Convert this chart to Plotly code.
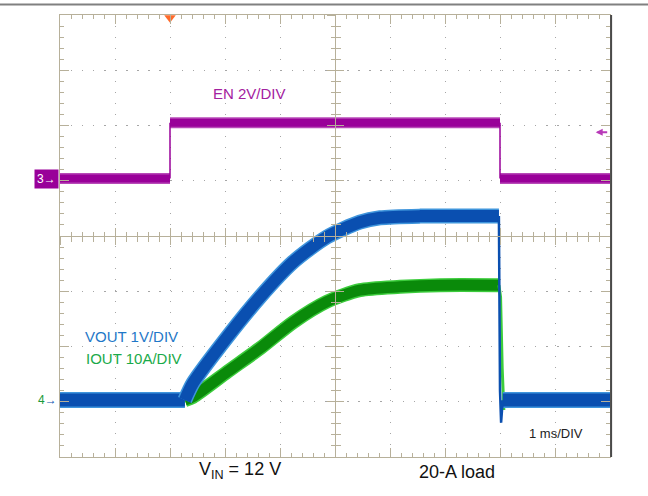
import plotly.graph_objects as go

# Oscilloscope capture: EN / VOUT / IOUT, 1 ms/div, 10 x 8 divisions
# time in divisions (1 div = 1 ms), amplitude in divisions from bottom

T_TRIG = 2.0

EN_T = [0.0, 2.0, 2.0, 8.0, 8.0, 10.0]
EN_V = [5.04, 5.04, 6.05, 6.05, 5.04, 5.04]

VOUT_BASE_T = [0.0, 2.27]
VOUT_BASE_V = [1.03, 1.03]
VOUT_T = [2.27, 2.42, 3.04, 3.64, 4.24, 4.85, 5.45, 5.82, 6.55, 7.98]
VOUT_V = [1.03, 1.34, 2.17, 2.90, 3.53, 3.98, 4.25, 4.33, 4.36, 4.36]
VOUT_FALL_T = [7.98, 8.0, 8.02, 8.05]
VOUT_FALL_V = [4.36, 1.2, 0.62, 1.03]
VOUT_TAIL_T = [8.05, 10.0]
VOUT_TAIL_V = [1.03, 1.03]

IOUT_BASE_T = [0.0, 2.27]
IOUT_BASE_V = [1.03, 1.03]
IOUT_T = [2.27, 2.42, 3.04, 3.64, 4.24, 4.85, 5.45, 6.18, 6.91, 7.98]
IOUT_V = [1.03, 1.09, 1.54, 1.97, 2.44, 2.81, 3.02, 3.08, 3.11, 3.11]
IOUT_FALL_T = [7.98, 8.01, 8.04, 8.07]
IOUT_FALL_V = [3.11, 2.9, 1.6, 0.85]
IOUT_TAIL_T = [8.07, 10.0]
IOUT_TAIL_V = [1.03, 1.03]

MAGENTA = "#990099"
MAGENTA_LT = "#b84ab8"
BLUE = "#0a4fb0"
BLUE_LT = "#3f95dc"
GREEN = "#0a8a0a"
GREEN_LT = "#3ccc3c"
TAN = "#b7b09a"
DOT = "#a6a6a6"
FONT = "Liberation Sans, Arial, sans-serif"


def segments(t, v, pairs):
    xs, ys = [], []
    for a, b in pairs:
        xs += [t[a], t[b], None]
        ys += [v[a], v[b], None]
    return xs, ys


def band(fig, t, v, core, halo, width, shape="linear"):
    fig.add_trace(go.Scatter(x=t, y=v, mode="lines",
                             line=dict(color=halo, width=width + 3, shape=shape, smoothing=0.7)))
    fig.add_trace(go.Scatter(x=t, y=v, mode="lines",
                             line=dict(color=core, width=width, shape=shape, smoothing=0.7)))


fig = go.Figure()

# EN: thick levels, thin edges
lx, ly = segments(EN_T, EN_V, [(0, 1), (2, 3), (4, 5)])
ex, ey = segments(EN_T, EN_V, [(1, 2), (3, 4)])
band(fig, lx, ly, MAGENTA, MAGENTA_LT, 8)
fig.add_trace(go.Scatter(x=ex, y=ey, mode="lines", line=dict(color=MAGENTA, width=1.5)))

# IOUT (green) under VOUT (blue)
band(fig, IOUT_BASE_T, IOUT_BASE_V, GREEN, GREEN_LT, 12)
band(fig, IOUT_T, IOUT_V, GREEN, GREEN_LT, 11, "spline")
band(fig, IOUT_TAIL_T, IOUT_TAIL_V, GREEN, GREEN_LT, 12)
fig.add_trace(go.Scatter(x=IOUT_FALL_T, y=IOUT_FALL_V, mode="lines",
                         line=dict(color=GREEN_LT, width=3)))

band(fig, VOUT_BASE_T, VOUT_BASE_V, BLUE, BLUE_LT, 13)
band(fig, VOUT_T, VOUT_V, BLUE, BLUE_LT, 12, "spline")
band(fig, VOUT_TAIL_T, VOUT_TAIL_V, BLUE, BLUE_LT, 13)
fig.add_trace(go.Scatter(x=VOUT_FALL_T, y=VOUT_FALL_V, mode="lines",
                         line=dict(color=BLUE, width=2.5)))

# trigger marker
fig.add_trace(go.Scatter(x=[T_TRIG], y=[7.95], mode="markers", cliponaxis=False,
                         marker=dict(symbol="triangle-down", size=10, color="#ff6a2a")))

# dummy traces for the centre cross axes
for i in (2, 3):
    fig.add_trace(go.Scatter(x=[None], y=[None], xaxis=f"x{i}", yaxis=f"y{i}"))

common = dict(showticklabels=False, zeroline=False, tickcolor=TAN, tickwidth=1,
              linecolor=TAN, linewidth=1, showline=True)

fig.update_layout(
    width=648, height=496,
    margin=dict(l=60, r=38, t=15, b=39),
    paper_bgcolor="white", plot_bgcolor="white",
    showlegend=False,
    font=dict(family=FONT, color="#222222"),
    xaxis=dict(range=[0, 10], dtick=1, ticks="inside", ticklen=9, mirror="ticks",
               showgrid=True, gridcolor=DOT, gridwidth=1.3, griddash="1.3px,9.7px",
               minor=dict(dtick=0.2, ticks="inside", ticklen=4, tickcolor=TAN, showgrid=False),
               **common),
    yaxis=dict(range=[0, 8], dtick=1, ticks="inside", ticklen=9, mirror="ticks",
               showgrid=True, gridcolor=DOT, gridwidth=1.3, griddash="1.3px,9.75px",
               minor=dict(dtick=0.2, ticks="inside", ticklen=4, tickcolor=TAN, showgrid=False),
               **common),
)
for i, side in ((2, "inside"), (3, "outside")):
    fig.update_layout(**{
        f"xaxis{i}": dict(range=[0, 10], dtick=1, overlaying="x", anchor="free", position=0.5,
                          ticks=side, ticklen=8, showgrid=False,
                          minor=dict(dtick=0.2, ticks=side, ticklen=4.5, tickcolor=TAN),
                          **common),
        f"yaxis{i}": dict(range=[0, 8], dtick=1, overlaying="y", anchor="free", position=0.5,
                          ticks=side, ticklen=8, showgrid=False,
                          minor=dict(dtick=0.2, ticks=side, ticklen=4.5, tickcolor=TAN),
                          **common),
    })

# right border and page rule
fig.add_shape(type="line", xref="paper", yref="paper", x0=1.002, x1=1.002, y0=0, y1=1,
              line=dict(color="#4a4a4a", width=2))
fig.add_shape(type="line", xref="paper", yref="paper", x0=-0.11, x1=1.07, y0=1.024, y1=1.024,
              line=dict(color="#808080", width=2))

ann = [
    dict(x=3.45, y=6.58, text="EN 2V/DIV", font=dict(size=15, color="#a3219f")),
    dict(x=0.42, y=2.18, text="VOUT 1V/DIV", xanchor="left", font=dict(size=15, color="#1f78c8")),
    dict(x=0.44, y=1.78, text="IOUT 10A/DIV", xanchor="left", font=dict(size=15, color="#1aaa4a")),
    dict(x=9.02, y=0.43, text="1 ms/DIV", font=dict(size=13, color="#222222")),
]
for a in ann:
    fig.add_annotation(xref="x", yref="y", showarrow=False, font_family=FONT, **a)

fig.add_annotation(xref="paper", yref="y", x=0, y=5.04, xanchor="right", xshift=-1,
                   text="3\u2192", showarrow=False, bgcolor=MAGENTA, borderpad=2,
                   font=dict(family=FONT, size=12, color="white"))
fig.add_annotation(xref="paper", yref="y", x=0, y=1.03, xanchor="right", xshift=-1,
                   text="<span style='color:#1a9a3a'>4</span><span style='color:#0a4fb0'>\u2192</span>",
                   showarrow=False, font=dict(family=FONT, size=12))
# EN offset indicator at the right edge
fig.add_annotation(xref="x", yref="y", x=9.74, y=5.88, ax=13, ay=0, text="",
                   showarrow=True, arrowhead=2, arrowsize=0.7, arrowwidth=2,
                   arrowcolor="#b83ab8", standoff=0)

fig.add_annotation(xref="paper", yref="paper", x=0.249, y=-0.06, showarrow=False,
                   text="V<sub>IN</sub> = 12 V", font=dict(family=FONT, size=18, color="#111111"))
fig.add_annotation(xref="paper", yref="paper", x=0.795, y=-0.06, showarrow=False,
                   text="20-A load", font=dict(family=FONT, size=18, color="#111111"))

fig.write_html("out.html", config={"displayModeBar": False},
               post_script="document.body.style.margin='0px';")
